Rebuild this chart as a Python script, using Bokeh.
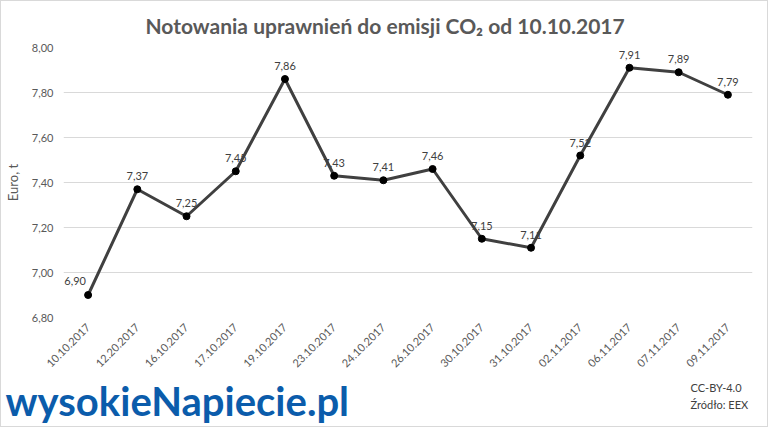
import math
from bokeh.plotting import figure
from bokeh.layouts import column
from bokeh.models import ColumnDataSource, FixedTicker, Title, Range1d
from bokeh.core.properties import value
from bokeh.embed import file_html
from bokeh.resources import INLINE

dates = ["10.10.2017", "12.20.2017", "16.10.2017", "17.10.2017", "19.10.2017",
         "23.10.2017", "24.10.2017", "26.10.2017", "30.10.2017", "31.10.2017",
         "02.11.2017", "06.11.2017", "07.11.2017", "09.11.2017"]
prices = [6.90, 7.37, 7.25, 7.45, 7.86, 7.43, 7.41, 7.46, 7.15, 7.11, 7.52, 7.91, 7.89, 7.79]
y_ticks = [6.8, 7.0, 7.2, 7.4, 7.6, 7.8, 8.0]

FONT = "Lato"
labels = [f"{v:.2f}".replace(".", ",") for v in prices]
src = ColumnDataSource(dict(x=dates, y=prices))
src_first = ColumnDataSource(dict(x=dates[:1], y=prices[:1], lab=labels[:1]))
src_rest = ColumnDataSource(dict(x=dates[1:], y=prices[1:], lab=labels[1:]))

p = figure(x_range=dates, y_range=Range1d(6.8, 8.0), width=766, height=374,
           output_backend="svg", toolbar_location=None,
           min_border_left=62, min_border_right=15, min_border_top=46, min_border_bottom=58)
p.outline_line_color = None
p.background_fill_color = "white"
p.border_fill_color = "white"

p.title = Title(text="Notowania uprawnień do emisji CO₂ od 10.10.2017", align="left",
                text_font=FONT, text_font_size="21px", text_font_style="bold",
                text_color="#595959", offset=82, standoff=19)

p.xgrid.grid_line_color = None
p.ygrid.grid_line_color = "#d9d9d9"
p.ygrid.grid_line_width = 1

p.yaxis.ticker = FixedTicker(ticks=y_ticks)
p.yaxis.major_label_overrides = {t: f"{t:.2f}".replace(".", ",") for t in y_ticks}
for ax in (p.xaxis[0], p.yaxis[0]):
    ax.axis_line_color = None
    ax.major_tick_line_color = None
    ax.minor_tick_line_color = None
    ax.major_tick_out = 0
    ax.major_tick_in = 0
    ax.major_label_text_color = "#595959"
    ax.major_label_text_font = FONT
    ax.major_label_text_font_size = "11px"
p.yaxis.major_label_standoff = 10
p.yaxis.axis_label = "Euro, t"
p.yaxis.axis_label_text_font = FONT
p.yaxis.axis_label_text_font_style = "normal"
p.yaxis.axis_label_text_font_size = "13px"
p.yaxis.axis_label_text_color = "#595959"
p.yaxis.axis_label_standoff = 8
p.xaxis.major_label_orientation = math.pi / 4
p.xaxis.major_label_standoff = 8

p.line("x", "y", source=src, line_color="#404040", line_width=3)
p.scatter("x", "y", source=src, size=7, fill_color="black", line_color="black")
p.text("x", "y", text="lab", source=src_rest, text_font=value(FONT), text_font_size="11px",
       text_color="#404040", text_align="center", text_baseline="bottom", y_offset=-9)
p.text("x", "y", text="lab", source=src_first, text_font=value(FONT), text_font_size="11px",
       text_color="#404040", text_align="center", text_baseline="bottom",
       x_offset=-13, y_offset=-10)

# footer (logo + credits), pixel-like coordinates
f = figure(width=766, height=51, x_range=Range1d(0, 766), y_range=Range1d(51, 0),
           output_backend="svg", toolbar_location=None,
           min_border=0, min_border_left=0, min_border_right=0,
           min_border_top=0, min_border_bottom=0)
f.frame_align = False
f.axis.visible = False
f.grid.visible = False
f.outline_line_color = None
f.background_fill_color = "white"
f.border_fill_color = "white"
f.text(x=[4], y=[25], text=["wysokieNapiecie.pl"], text_font=value(FONT),
       text_font_size="40px", text_font_style="bold", text_color="#0b5cab",
       text_baseline="alphabetic", text_align="left")
f.text(x=[689, 689], y=[12, 29], text=["CC-BY-4.0", "Źródło: EEX"], text_font=value(FONT),
       text_font_size="11px", text_color="#404040", text_baseline="middle", text_align="left")

layout = column(p, f, spacing=0)
layout.styles = {"border": "1px solid #d9d9d9", "gap": "0px"}

open("out.html", "w").write(file_html(layout, INLINE))
